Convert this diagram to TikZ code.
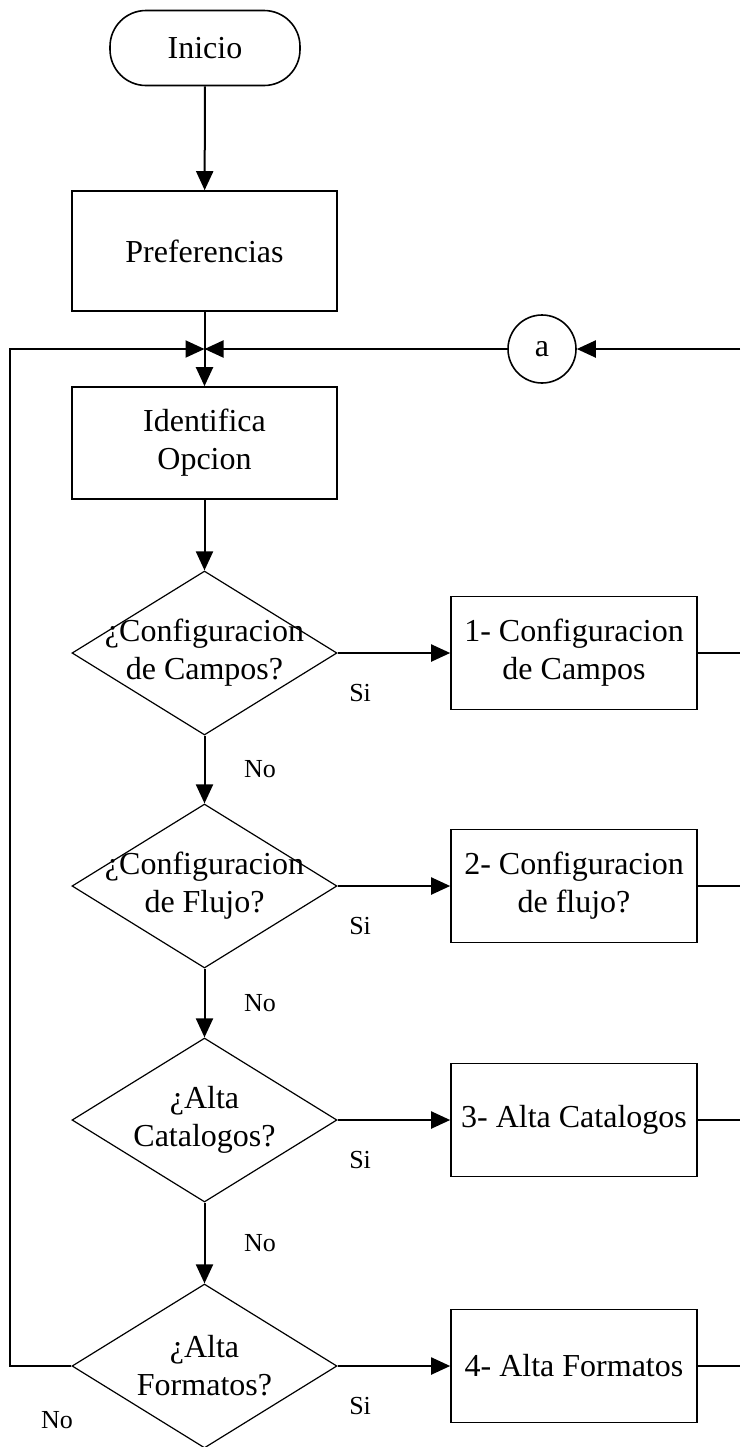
\documentclass[tikz,border=0pt]{standalone}
\usepackage{fontspec}
\setmainfont{Liberation Serif}
\usepackage{tikz}
\usetikzlibrary{shapes.geometric, arrows.meta, positioning}

\tikzset{
  txt/.style={font=\fontsize{16}{19}\selectfont, align=center},
  lbl/.style={font=\fontsize{13}{15}\selectfont},
  startstop/.style={txt, draw, line width=0.8pt, rectangle, rounded corners=18pt, minimum width=95pt, minimum height=37.5pt},
  process/.style={txt, draw, line width=0.8pt, rectangle, minimum width=132.5pt, minimum height=60pt},
  task/.style={txt, draw, line width=0.8pt, rectangle, minimum width=123pt, minimum height=56.5pt},
  decision/.style={txt, draw, line width=0.6pt, diamond, aspect=1.6, inner sep=-12pt, minimum width=132.5pt, minimum height=82pt},
  connector/.style={txt, draw, line width=0.8pt, circle, inner sep=0pt, minimum size=34pt},
  flow/.style={line width=1pt, -{Triangle[length=9.5pt, width=8.5pt]}},
  line/.style={line width=1pt}
}

\begin{document}
\begin{tikzpicture}[x=0.5pt, y=-0.5pt]
\useasboundingbox (0,0) rectangle (740,1447);

\node[startstop] (inicio) at (205,48) {Inicio};
\node[process] (pref) at (204.5,251) {Preferencias};
\coordinate (join) at (204.5,349);
\node[process, minimum height=56pt] (ident) at (204.5,443) {Identifica\\Opcion};
\node[connector] (a) at (542,349) {a};
\coordinate (loop) at (10,349);
\coordinate (back) at (740,349);

% decisiones
\node[decision] (campos)    at (204.5,653)  {¿Configuracion\\de Campos?};
\node[decision] (flujo)     at (204.5,886)  {¿Configuracion\\de Flujo?};
\node[decision] (catalogos) at (204.5,1120) {¿Alta\\Catalogos?};
\node[decision] (formatos)  at (204.5,1366) {¿Alta\\Formatos?};

% opciones
\node[task] (opcampos)    at (574,653)  {1- Configuracion\\de Campos};
\node[task] (opflujo)     at (574,886)  {2- Configuracion\\de flujo?};
\node[task] (opcatalogos) at (574,1120) {3- Alta Catalogos};
\node[task] (opformatos)  at (574,1366) {4- Alta Formatos};

\draw[flow] (inicio) -- (pref);
\draw[flow] (pref) -- (ident);
\draw[flow] (back) -- (a);
\draw[flow] (a) -- (join);
\draw[flow] (formatos.west) -| (loop) -- (join);
\draw[flow] (ident) -- (campos);

\draw[flow] (campos.south) -- (flujo.north) node[lbl, midway, right=16pt] {No};
\draw[flow] (flujo.south) -- (catalogos.north) node[lbl, midway, right=16pt] {No};
\draw[flow] (catalogos.south) -- (formatos.north) node[lbl, midway, right=16pt] {No};
\node[lbl] (noformatos) at (57,1420) {No};

\draw[flow] (campos.east) -- (opcampos.west) node[lbl, pos=0.2, below=12pt] {Si};
\draw[flow] (flujo.east) -- (opflujo.west) node[lbl, pos=0.2, below=12pt] {Si};
\draw[flow] (catalogos.east) -- (opcatalogos.west) node[lbl, pos=0.2, below=12pt] {Si};
\draw[flow] (formatos.east) -- (opformatos.west) node[lbl, pos=0.2, below=12pt] {Si};

\draw[line] (opcampos.east) -- (opcampos.east -| back);
\draw[line] (opflujo.east) -- (opflujo.east -| back);
\draw[line] (opcatalogos.east) -- (opcatalogos.east -| back);
\draw[line] (opformatos.east) -- (opformatos.east -| back);
\end{tikzpicture}
\end{document}
